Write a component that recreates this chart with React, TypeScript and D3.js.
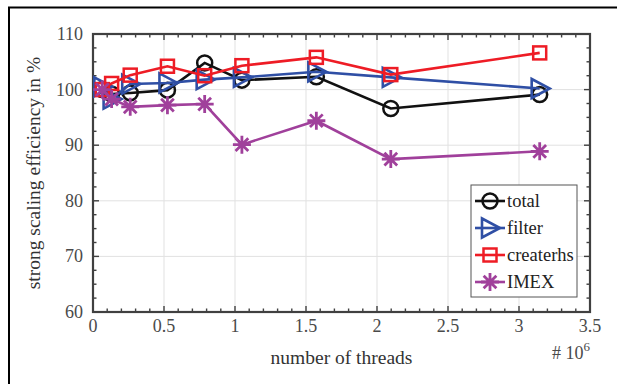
import React, { useRef, useLayoutEffect } from 'react';
import * as d3 from 'd3';

// thread counts (in units of 10^6)
const threads = [0.065536, 0.131072, 0.262144, 0.524288, 0.786432, 1.048576, 1.572864, 2.097152, 3.145728];
const total = [100, 99.2, 99.4, 99.9, 104.8, 101.7, 102.3, 96.6, 99.1];
const filter = [100.5, 98.3, 101, 101.2, 101.8, 102.2, 103.2, 102.2, 100.2];
const createrhs = [100, 101.1, 102.6, 104.2, 102.5, 104.3, 105.8, 102.7, 106.6];
const imex = [100, 98.3, 96.9, 97.2, 97.4, 90.1, 94.4, 87.5, 88.9];

const seriesNames = ['total', 'filter', 'createrhs', 'IMEX'];
const seriesColors = ['#111111', '#2f4fa5', '#ee1c25', '#a0409b'];
const seriesMarkers = ['circle', 'triangle', 'square', 'star'];

const xTicks = [0, 0.5, 1, 1.5, 2, 2.5, 3, 3.5];
const yTicks = [60, 70, 80, 90, 100, 110];

const FONT = '"Liberation Serif", "Times New Roman", serif';

const drawMarker = (g, kind, color, cx, cy) => {
    if (kind === 'circle') {
        g.append('circle').attr('cx', cx).attr('cy', cy).attr('r', 7.5)
            .attr('fill', 'none').attr('stroke', color).attr('stroke-width', 2.5);
    } else if (kind === 'square') {
        g.append('rect').attr('x', cx - 6.5).attr('y', cy - 6.5).attr('width', 13).attr('height', 13)
            .attr('fill', 'none').attr('stroke', color).attr('stroke-width', 2.5);
    } else if (kind === 'triangle') {
        const p = [[cx - 8, cy - 9.5], [cx + 10, cy], [cx - 8, cy + 9.5]];
        g.append('path').attr('d', 'M' + p.map(q => q.join(',')).join('L') + 'Z')
            .attr('fill', 'none').attr('stroke', color).attr('stroke-width', 2.6);
    } else {
        const r = 9;
        const d = r * Math.SQRT1_2;
        g.append('path')
            .attr('d', `M${cx - r},${cy}L${cx + r},${cy}M${cx},${cy - r}L${cx},${cy + r}M${cx - d},${cy - d}L${cx + d},${cy + d}M${cx - d},${cy + d}L${cx + d},${cy - d}`)
            .attr('fill', 'none').attr('stroke', color).attr('stroke-width', 2.8);
    }
};

const App = () => {
    const ref = useRef(null);

    useLayoutEffect(() => {
        const svg = d3.select(ref.current);
        svg.selectAll('*').remove();

        const W = 617, H = 384;
        const margin = { top: 34, right: 27, bottom: 72, left: 93 };
        const width = W - margin.left - margin.right;
        const height = H - margin.top - margin.bottom;

        // outer figure frame (cropped at right/bottom)
        svg.append('path').attr('d', `M9,${H}L9,7.5L${W},7.5`)
            .attr('fill', 'none').attr('stroke', '#000').attr('stroke-width', 2);

        const g = svg.append('g').attr('transform', `translate(${margin.left},${margin.top})`);

        const x = d3.scaleLinear().domain([0, 3.5]).range([0, width]);
        const y = d3.scaleLinear().domain([60, 110]).range([height, 0]);

        // grid
        g.append('g').selectAll('line').data(xTicks.slice(1, -1)).enter().append('line')
            .attr('x1', d => x(d)).attr('x2', d => x(d)).attr('y1', 0).attr('y2', height)
            .attr('stroke', '#e1e1e1').attr('stroke-width', 1);
        g.append('g').selectAll('line').data(yTicks.slice(1, -1)).enter().append('line')
            .attr('y1', d => y(d)).attr('y2', d => y(d)).attr('x1', 0).attr('x2', width)
            .attr('stroke', '#e1e1e1').attr('stroke-width', 1);

        // ticks (inward, all sides)
        const axisColor = '#404040';
        const xMinor = d3.range(0, 3.5001, 0.1);
        const yMinor = d3.range(60, 110.001, 2.5);
        const tk = g.append('g').attr('stroke', axisColor).attr('stroke-width', 1.4);
        xMinor.forEach(v => {
            const major = xTicks.some(t => Math.abs(t - v) < 1e-6);
            const len = major ? 6 : 3.5;
            tk.append('line').attr('x1', x(v)).attr('x2', x(v)).attr('y1', height).attr('y2', height - len);
            tk.append('line').attr('x1', x(v)).attr('x2', x(v)).attr('y1', 0).attr('y2', len);
        });
        yMinor.forEach(v => {
            const major = yTicks.some(t => Math.abs(t - v) < 1e-6);
            const len = major ? 6 : 3.5;
            tk.append('line').attr('y1', y(v)).attr('y2', y(v)).attr('x1', 0).attr('x2', len);
            tk.append('line').attr('y1', y(v)).attr('y2', y(v)).attr('x1', width).attr('x2', width - len);
        });

        // tick labels
        g.append('g').selectAll('text').data(xTicks).enter().append('text')
            .attr('x', d => x(d)).attr('y', height + 20)
            .attr('text-anchor', 'middle').attr('font-family', FONT).attr('font-size', 18)
            .attr('fill', '#4a4a4a').text(d => d3.format('~g')(d));
        g.append('g').selectAll('text').data(yTicks).enter().append('text')
            .attr('x', -10).attr('y', d => y(d) + 6)
            .attr('text-anchor', 'end').attr('font-family', FONT).attr('font-size', 18)
            .attr('fill', '#4a4a4a').text(d => d);

        // exponent
        const ex = g.append('text').attr('x', width).attr('y', height + 47)
            .attr('text-anchor', 'end').attr('font-family', FONT).attr('font-size', 18).attr('fill', '#4a4a4a');
        ex.append('tspan').text('# 10');
        ex.append('tspan').attr('dy', -8).attr('font-size', 13).text('6');

        // axis labels
        g.append('text').attr('x', width / 2).attr('y', height + 52)
            .attr('text-anchor', 'middle').attr('font-family', FONT).attr('font-size', 19.5)
            .attr('fill', '#333').text('number of threads');
        g.append('text').attr('transform', `translate(${-53},${height / 2}) rotate(-90)`)
            .attr('text-anchor', 'middle').attr('font-family', FONT).attr('font-size', 19.5)
            .attr('fill', '#333').text('strong scaling efficiency in %');

        // plot frame
        g.append('rect').attr('x', 0).attr('y', 0).attr('width', width).attr('height', height)
            .attr('fill', 'none').attr('stroke', axisColor).attr('stroke-width', 2.2);

        // series
        const allSeries = [total, filter, createrhs, imex];
        const line = d3.line().x(d => x(d[0])).y(d => y(d[1]));
        allSeries.forEach((vals, i) => {
            const pts = threads.map((t, j) => [t, vals[j]]);
            const sg = g.append('g');
            sg.append('path').datum(pts).attr('d', line)
                .attr('fill', 'none').attr('stroke', seriesColors[i]).attr('stroke-width', 2.6);
            pts.forEach(p => drawMarker(sg, seriesMarkers[i], seriesColors[i], x(p[0]), y(p[1])));
        });

        // legend
        const lx = 471 - margin.left, ly = 185 - margin.top;
        const lg = g.append('g').attr('transform', `translate(${lx},${ly})`);
        lg.append('rect').attr('x', 0).attr('y', 0).attr('width', 106).attr('height', 112)
            .attr('fill', '#fff').attr('stroke', '#555').attr('stroke-width', 1);
        seriesNames.forEach((name, i) => {
            const cy = 16 + i * 27;
            lg.append('line').attr('x1', 4).attr('x2', 34).attr('y1', cy).attr('y2', cy)
                .attr('stroke', seriesColors[i]).attr('stroke-width', 2.6);
            drawMarker(lg, seriesMarkers[i], seriesColors[i], 19, cy);
            lg.append('text').attr('x', 36).attr('y', cy + 6)
                .attr('font-family', FONT).attr('font-size', 18.5).attr('fill', '#222').text(name);
        });
    }, []);

    return (
        <div style={{ position: 'fixed', left: 0, top: 0 }}>
            <svg ref={ref} width={617} height={384} style={{ display: 'block', background: '#fff' }}></svg>
        </div>
    );
};

export default App;
